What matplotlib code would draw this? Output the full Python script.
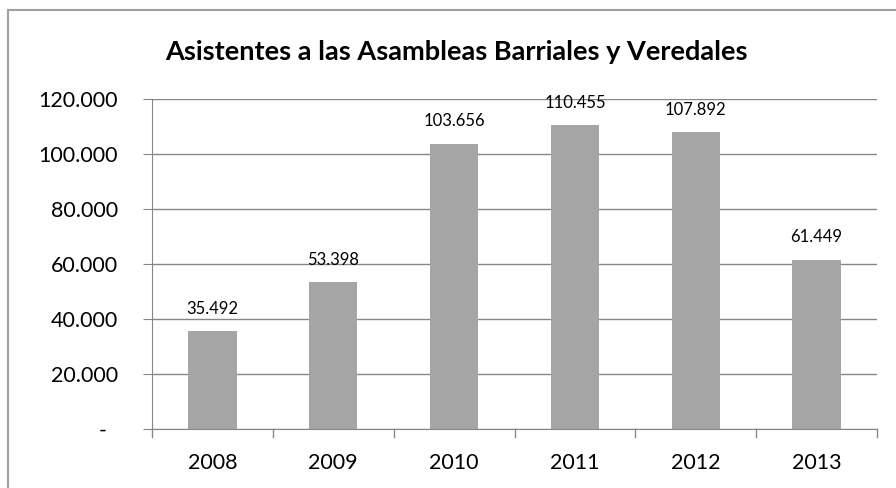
import matplotlib
matplotlib.use("Agg")
import matplotlib.pyplot as plt
from matplotlib.lines import Line2D

years = ["2008", "2009", "2010", "2011", "2012", "2013"]
asistentes = [35492, 53398, 103656, 110455, 107892, 61449]
yticks = [0, 20000, 40000, 60000, 80000, 100000, 120000]


def fmt_miles(v):
    # formato con punto como separador de miles
    if v == 0:
        return "-  "
    return f"{v:,.0f}".replace(",", ".")


plt.rcParams['font.family'] = ['Lato', 'DejaVu Sans']

fig = plt.figure(figsize=(8.96, 4.88), dpi=100)
ax = fig.add_axes([152 / 896, 1 - 429 / 488, (877 - 152) / 896, (429 - 99) / 488])

x = range(len(years))
ax.bar(x, asistentes, width=0.4, color="#a5a5a5", zorder=3)

for xi, v in zip(x, asistentes):
    ax.annotate(fmt_miles(v), (xi, v), xytext=(0, 10.5), textcoords="offset points",
                ha="center", va="bottom", fontsize=12, color="black")

ax.set_xlim(-0.5, len(years) - 0.5)
ax.set_ylim(0, 120000)
ax.set_yticks(yticks)
ax.set_yticklabels([fmt_miles(v) for v in yticks], fontsize=15.5)
ax.set_xticks(list(x))
ax.set_xticklabels(years, fontsize=15.5)
ax.tick_params(axis="x", length=0, pad=17)
ax.tick_params(axis="y", length=6.5, color="#868686", pad=18)

# marcas entre categorias
for b in [i - 0.5 for i in range(len(years) + 1)]:
    ax.plot([b, b], [0, -0.025], transform=ax.get_xaxis_transform(),
            color="#868686", lw=1, clip_on=False)

ax.grid(axis="y", color="#868686", lw=1, zorder=0)
for s in ["top", "right"]:
    ax.spines[s].set_visible(False)
ax.spines["left"].set_color("#868686")
ax.spines["bottom"].set_color("#868686")

fig.text(456 / 896, 1 - 52 / 488, "Asistentes a las Asambleas Barriales y Veredales",
         ha="center", va="center", fontsize=19.5, fontweight="bold")

# borde exterior del grafico
fig.add_artist(Line2D([8 / 896, 8 / 896], [0, 1 - 9.5 / 488], color="#a0a0a0", lw=1.5))
fig.add_artist(Line2D([8 / 896, 1], [1 - 9.5 / 488, 1 - 9.5 / 488], color="#a0a0a0", lw=1.5))

fig.savefig("out.png", dpi=100)
